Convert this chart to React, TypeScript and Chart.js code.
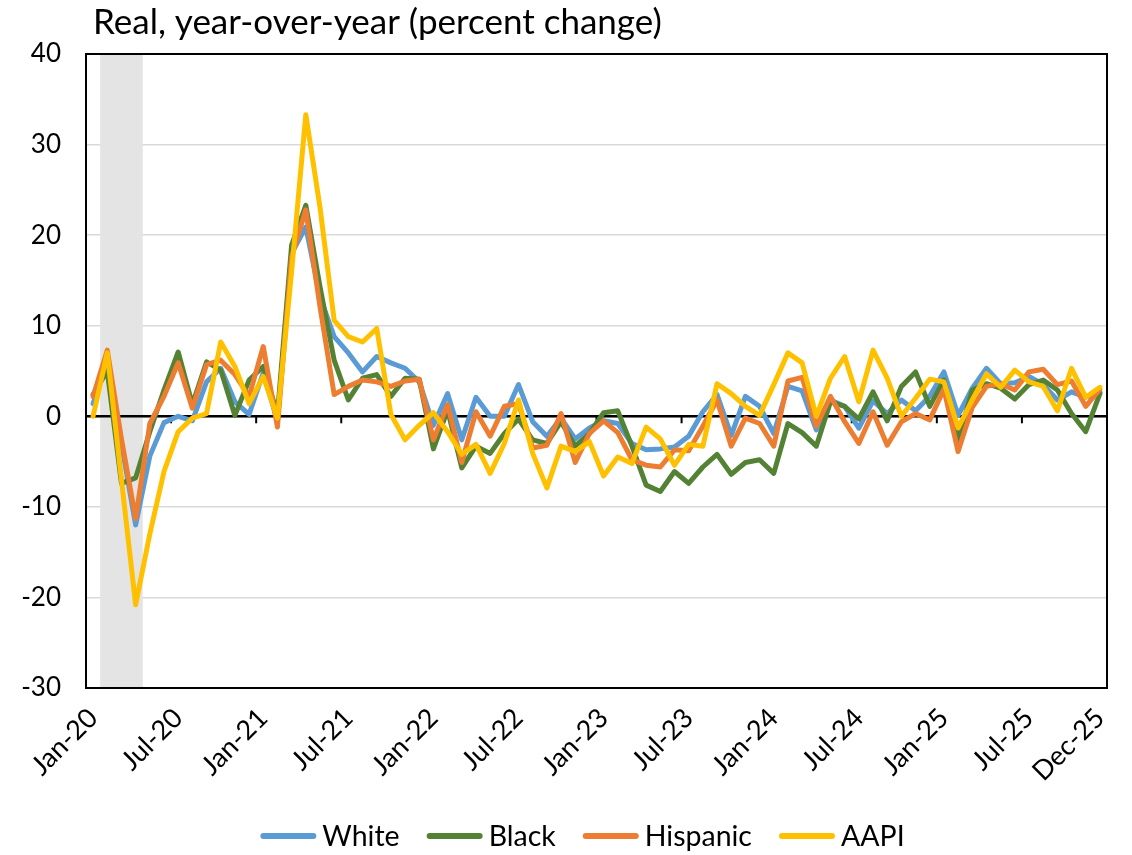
import React, { useEffect, useRef } from "react";
import { Chart, registerables } from "chart.js";

Chart.register(...registerables);

const categories = [
  "Jan-20", "Feb-20", "Mar-20", "Apr-20", "May-20", "Jun-20", "Jul-20", "Aug-20", "Sep-20", "Oct-20", "Nov-20", "Dec-20",
  "Jan-21", "Feb-21", "Mar-21", "Apr-21", "May-21", "Jun-21", "Jul-21", "Aug-21", "Sep-21", "Oct-21", "Nov-21", "Dec-21",
  "Jan-22", "Feb-22", "Mar-22", "Apr-22", "May-22", "Jun-22", "Jul-22", "Aug-22", "Sep-22", "Oct-22", "Nov-22", "Dec-22",
  "Jan-23", "Feb-23", "Mar-23", "Apr-23", "May-23", "Jun-23", "Jul-23", "Aug-23", "Sep-23", "Oct-23", "Nov-23", "Dec-23",
  "Jan-24", "Feb-24", "Mar-24", "Apr-24", "May-24", "Jun-24", "Jul-24", "Aug-24", "Sep-24", "Oct-24", "Nov-24", "Dec-24",
  "Jan-25", "Feb-25", "Mar-25", "Apr-25", "May-25", "Jun-25", "Jul-25", "Aug-25", "Sep-25", "Oct-25", "Nov-25", "Dec-25",
];

const shownTickLabels = [
  "Jan-20", "Jul-20", "Jan-21", "Jul-21", "Jan-22", "Jul-22", "Jan-23",
  "Jul-23", "Jan-24", "Jul-24", "Jan-25", "Jul-25", "Dec-25",
];

const recessionMonths = ["Feb-20", "Mar-20", "Apr-20"];

const white = [
  1.4, 6.0, -3.0, -12.0, -4.4, -0.7, 0.0, -0.5, 3.8, 5.3, 1.6, 0.2,
  4.8, -0.5, 18.0, 20.9, 13.2, 8.8, 7.0, 4.9, 6.6, 5.9, 5.3, 3.8,
  -1.0, 2.5, -2.6, 2.1, 0.0, 0.0, 3.5, -0.6, -2.2, -0.2, -2.5, -1.3,
  -0.5, -0.8, -3.0, -3.7, -3.6, -3.4, -2.2, 0.5, 2.4, -2.1, 2.2, 1.1,
  -1.9, 3.3, 2.8, -1.5, 1.8, 1.1, -1.3, 1.7, 0.3, 1.8, 0.6, 2.2,
  4.9, 0.1, 3.1, 5.3, 3.6, 3.7, 4.4, 3.5, 1.8, 2.7, 2.1, 2.7,
];

const black = [
  2.4, 5.0, -7.4, -6.8, -1.7, 2.9, 7.1, 1.3, 6.0, 5.1, 0.1, 4.0,
  5.5, 0.2, 18.9, 23.3, 14.3, 6.2, 1.8, 4.2, 4.6, 2.2, 4.2, 4.1,
  -3.6, 0.7, -5.7, -3.3, -4.1, -1.9, -0.3, -2.6, -3.0, -0.6, -3.3, -1.9,
  0.4, 0.6, -3.3, -7.6, -8.3, -6.1, -7.4, -5.6, -4.2, -6.4, -5.1, -4.8,
  -6.3, -0.8, -1.8, -3.3, 1.6, 1.1, -0.3, 2.7, -0.5, 3.3, 4.9, 1.1,
  4.0, -2.6, 2.9, 3.6, 3.1, 1.9, 3.5, 4.0, 2.9, 0.3, -1.7, 2.5,
];

const hispanic = [
  2.2, 7.3, -2.5, -11.3, -0.8, 2.2, 5.9, 0.9, 5.7, 6.2, 4.6, 2.2,
  7.7, -1.2, 17.6, 22.8, 12.1, 2.4, 3.3, 4.0, 3.8, 3.3, 3.9, 4.1,
  -2.6, 1.3, -5.1, 0.5, -2.2, 1.1, 1.4, -3.5, -3.2, 0.3, -5.1, -1.9,
  -0.5, -1.8, -4.8, -5.4, -5.6, -3.7, -3.8, -1.1, 1.8, -3.3, -0.2, -0.8,
  -3.3, 3.9, 4.3, -1.1, 2.2, -0.6, -3.0, 0.5, -3.2, -0.6, 0.3, -0.4,
  3.0, -3.9, 1.0, 3.3, 3.6, 2.9, 4.9, 5.2, 3.5, 3.9, 1.1, 3.0,
];

const aapi = [
  0.0, 7.0, -7.0, -20.8, -13.0, -6.1, -1.7, -0.2, 0.3, 8.2, 5.5, 1.4,
  4.4, -0.2, 16.0, 33.3, 23.1, 10.6, 8.8, 8.2, 9.7, 0.2, -2.6, -1.0,
  0.4, -1.7, -4.2, -3.1, -6.3, -3.0, 1.8, -4.1, -7.9, -3.3, -3.9, -2.8,
  -6.6, -4.5, -5.2, -1.2, -2.5, -5.4, -3.1, -3.3, 3.6, 2.5, 1.1, 0.1,
  3.5, 7.0, 5.9, 0.0, 4.2, 6.6, 1.6, 7.3, 4.2, 0.0, 2.0, 4.1,
  3.8, -1.3, 1.8, 4.7, 3.2, 5.1, 3.8, 3.3, 0.6, 5.3, 2.1, 3.2,
];

const seriesNames = ["White", "Black", "Hispanic", "AAPI"];
const seriesColors = ["#5B9BD5", "#548235", "#ED7D31", "#FFC000"];

const yMin = -30;
const yMax = 40;
const yStep = 10;

const titleText = "Real, year-over-year (percent change)";
const FONT = "Lato, 'Noto Sans', sans-serif";

const decorPlugin = {
  id: "decor",
  beforeDatasetsDraw(chart: any) {
    const { ctx, chartArea } = chart;
    const xs = chart.scales.x;
    const ys = chart.scales.y;
    const half = (xs.getPixelForValue(1) - xs.getPixelForValue(0)) / 2;
    const i0 = categories.indexOf(recessionMonths[0]);
    const i1 = categories.indexOf(recessionMonths[recessionMonths.length - 1]);
    ctx.save();
    ctx.fillStyle = "#E4E4E4";
    const bx0 = xs.getPixelForValue(i0) - half;
    const bx1 = xs.getPixelForValue(i1) + half;
    ctx.fillRect(bx0, chartArea.top, bx1 - bx0, chartArea.bottom - chartArea.top);
    const y0 = ys.getPixelForValue(0);
    ctx.strokeStyle = "#000";
    ctx.lineWidth = 2.5;
    ctx.beginPath();
    ctx.moveTo(chartArea.left, y0);
    ctx.lineTo(chartArea.right, y0);
    ctx.stroke();
    ctx.lineWidth = 2;
    for (let b = 0; b <= categories.length; b += 6) {
      const x = xs.getPixelForValue(0) - half + b * 2 * half;
      ctx.beginPath();
      ctx.moveTo(x, y0);
      ctx.lineTo(x, y0 + 7);
      ctx.stroke();
    }
    ctx.restore();
  },
  afterDatasetsDraw(chart: any) {
    const { ctx, chartArea } = chart;
    ctx.save();
    ctx.strokeStyle = "#000";
    ctx.lineWidth = 2;
    ctx.strokeRect(
      chartArea.left,
      chartArea.top,
      chartArea.right - chartArea.left,
      chartArea.bottom - chartArea.top
    );
    ctx.restore();
  },
  afterDraw(chart: any) {
    const { ctx, chartArea } = chart;
    ctx.save();
    ctx.fillStyle = "#000";
    ctx.font = `35px ${FONT}`;
    ctx.textAlign = "left";
    ctx.textBaseline = "alphabetic";
    ctx.fillText(titleText, chartArea.left + 7, 34);
    ctx.font = `28.5px ${FONT}`;
    ctx.textBaseline = "middle";
    const lineLen = 56;
    const gapText = 6;
    const gapItem = 27;
    const items = chart.data.datasets.map((d: any) => ({
      label: d.label,
      color: d.borderColor,
      w: ctx.measureText(d.label).width,
    }));
    const total =
      items.reduce((s: number, it: any) => s + lineLen + gapText + it.w, 0) +
      gapItem * (items.length - 1);
    let x = (chartArea.left + chartArea.right) / 2 - 14 - total / 2;
    const y = 836;
    for (const it of items) {
      ctx.strokeStyle = it.color;
      ctx.lineWidth = 6;
      ctx.lineCap = "round";
      ctx.beginPath();
      ctx.moveTo(x + 3, y);
      ctx.lineTo(x + lineLen - 3, y);
      ctx.stroke();
      ctx.fillStyle = "#000";
      ctx.fillText(it.label, x + lineLen + gapText, y + 1);
      x += lineLen + gapText + it.w + gapItem;
    }
    ctx.restore();
  },
};

export default function App() {
  const ref = useRef<HTMLCanvasElement | null>(null);

  useEffect(() => {
    document.body.style.margin = "0";
    const canvas = ref.current;
    if (!canvas) return;
    const seriesValues = [white, black, hispanic, aapi];
    const chart = new Chart(canvas, {
      type: "line",
      data: {
        labels: categories,
        datasets: seriesValues.map((vals, i) => ({
          label: seriesNames[i],
          data: vals,
          borderColor: seriesColors[i],
          backgroundColor: seriesColors[i],
          borderWidth: 5,
          pointRadius: 0,
          tension: 0,
          borderJoinStyle: "round" as const,
          borderCapStyle: "round" as const,
          fill: false,
          order: seriesValues.length - i,
        })),
      },
      options: {
        animation: false,
        responsive: false,
        devicePixelRatio: 1,
        layout: { padding: { left: 0, right: 25, top: 54, bottom: 0 } },
        plugins: {
          legend: { display: false },
          tooltip: { enabled: false },
          title: { display: false },
        },
        scales: {
          x: {
            type: "category",
            offset: true,
            grid: { display: false, drawTicks: false },
            border: { display: false },
            ticks: {
              autoSkip: false,
              maxRotation: 45,
              minRotation: 45,
              padding: 14,
              color: "#000",
              font: { family: FONT, size: 27 },
              callback: function (_v: any, idx: number) {
                const l = categories[idx];
                return shownTickLabels.includes(l) ? l : "";
              },
            },
            afterFit: (s: any) => {
              s.height = 167;
              s.paddingLeft = 0;
              s.paddingRight = 0;
            },
          },
          y: {
            min: yMin,
            max: yMax,
            ticks: {
              stepSize: yStep,
              color: "#000",
              padding: 25,
              font: { family: FONT, size: 26 },
            },
            grid: { color: "#D9D9D9", lineWidth: 1.5, drawTicks: false },
            border: { display: false },
            afterFit: (s: any) => {
              s.width = 86;
            },
          },
        },
      },
      plugins: [decorPlugin],
    });
    return () => chart.destroy();
  }, []);

  return (
    <canvas
      ref={ref}
      width={1132}
      height={855}
      style={{ display: "block", width: 1132, height: 855 }}
    />
  );
}
